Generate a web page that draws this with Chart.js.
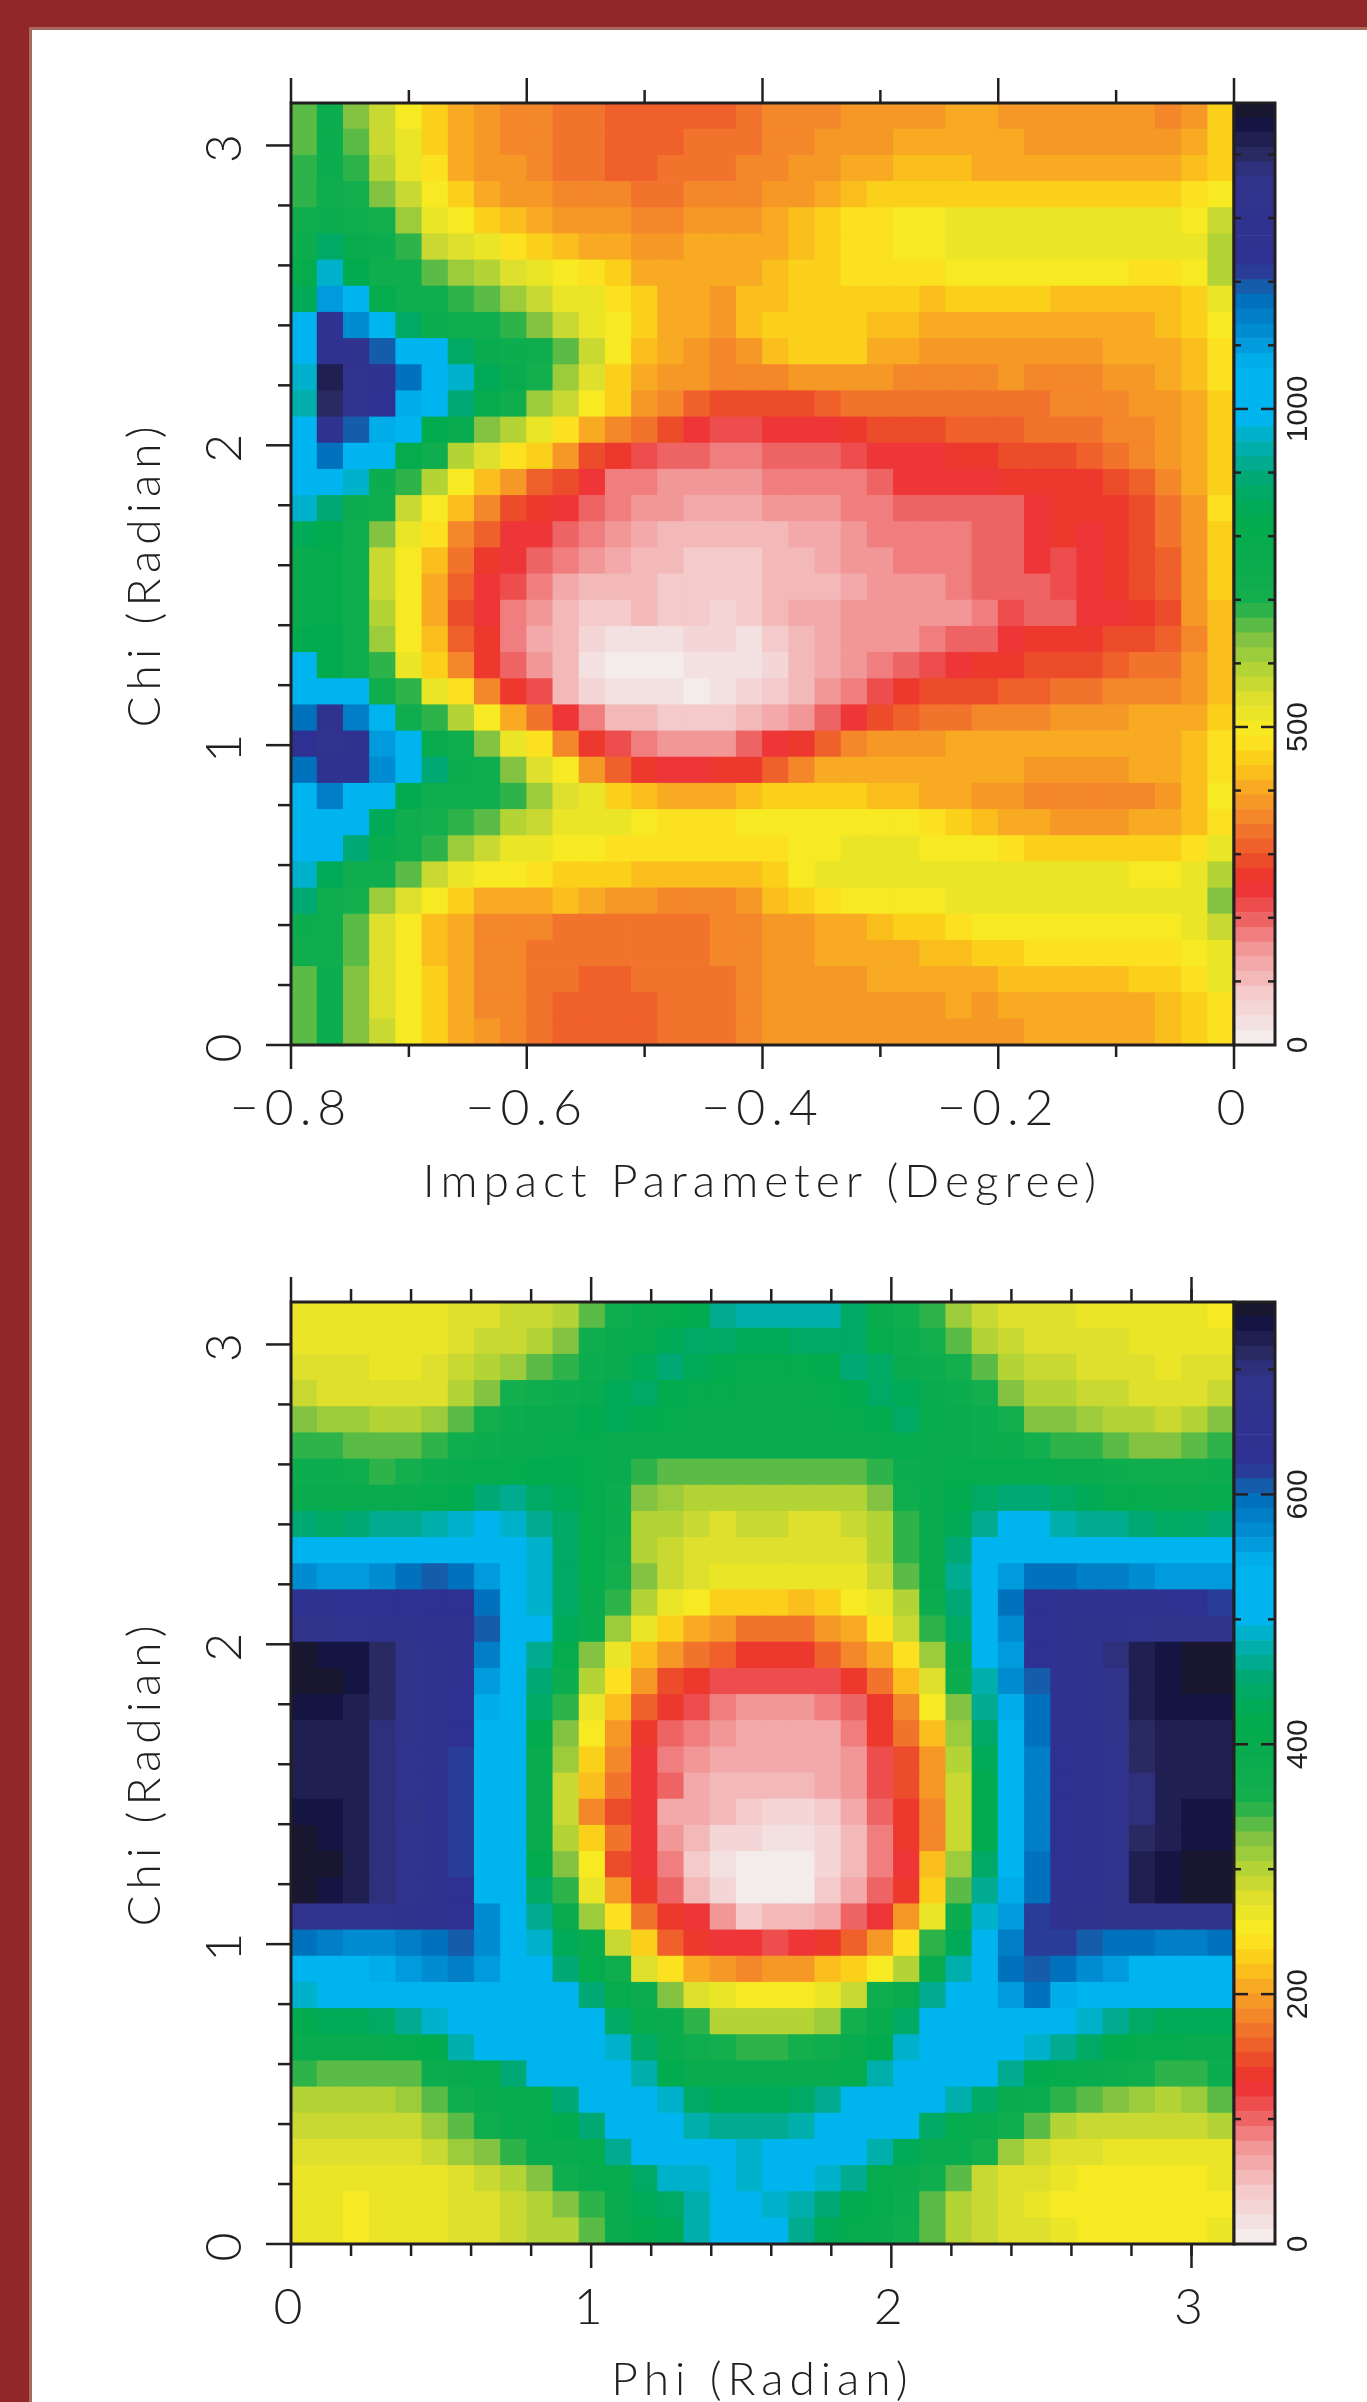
<!DOCTYPE html>
<html>
<head>
<meta charset="utf-8">
<title>Impact parameter and phi maps</title>
<style>
    html, body { margin: 0; padding: 0; background: #fff; overflow: hidden; }
    #page { position: relative; width: 1367px; height: 2402px; overflow: hidden; background: #92272a; }
    #sheet { position: absolute; left: 29px; top: 27px; width: 1338px; height: 2375px; background: #fff;
             border-left: 3px solid #a8695f; border-top: 3px solid #a8695f; }
    canvas { position: absolute; }
    #topMap { left: 60px; top: 60px; }
    #topBar { left: 1220px; top: 60px; }
    #lowMap { left: 60px; top: 1260px; }
    #lowBar { left: 1220px; top: 1260px; }
</style>
<script src="https://cdn.jsdelivr.net/npm/chart.js@4/dist/chart.umd.min.js"></script>
</head>
<body>
<div id="page">
    <div id="sheet"></div>
    <canvas id="topMap" width="1210" height="1155"></canvas>
    <canvas id="topBar" width="147" height="1155"></canvas>
    <canvas id="lowMap" width="1210" height="1170"></canvas>
    <canvas id="lowBar" width="147" height="1170"></canvas>
</div>
<script>
// values, rows go from top (chi = pi) to bottom (chi = 0)
const impactGrid = [
    [650,760,640,560,495,440,395,375,360,350,345,330,315,310,315,320,320,340,350,360,365,375,380,385,390,395,395,390,385,385,385,380,375,370,385,440],
    [660,760,660,570,510,450,400,380,365,350,340,325,315,310,320,330,330,340,360,370,375,385,390,400,405,405,400,395,390,385,385,385,385,380,410,460],
    [680,750,680,590,530,480,410,390,375,360,345,330,320,320,330,340,345,360,370,375,385,395,410,420,425,420,415,410,410,405,400,405,410,410,420,460],
    [690,740,710,630,560,500,440,410,390,375,365,355,350,345,345,350,355,370,375,385,400,420,440,455,460,455,455,450,450,445,440,445,450,460,475,500],
    [720,750,740,700,610,520,490,450,430,400,390,385,375,370,370,375,380,390,395,420,450,470,470,490,500,510,510,515,520,520,515,515,510,510,500,570],
    [760,860,770,750,690,570,540,510,470,445,420,415,405,390,390,395,395,400,405,430,450,465,475,490,500,510,515,520,520,525,525,520,510,510,510,590],
    [800,970,830,740,720,650,620,590,550,510,490,465,440,400,400,405,395,410,420,440,460,470,480,470,480,490,495,500,495,495,495,490,485,480,500,580],
    [850,1100,1020,800,720,730,680,650,610,560,520,510,480,440,410,400,390,420,430,445,455,460,450,445,430,440,445,445,440,430,420,425,430,430,460,530],
    [1000,1270,1120,990,860,760,740,720,690,640,570,520,490,440,410,395,385,425,440,450,455,450,430,420,415,415,415,410,410,400,400,400,410,420,440,490],
    [1020,1280,1300,1200,1040,1000,860,770,750,730,660,560,500,435,400,385,370,390,425,440,445,440,410,395,380,380,385,385,385,385,385,395,405,410,430,470],
    [960,1420,1340,1290,1160,1020,970,840,780,700,610,550,460,400,380,375,350,350,360,375,385,385,375,370,365,365,370,375,370,360,360,375,385,395,425,470],
    [940,1400,1320,1240,1080,1000,880,800,720,620,560,500,450,375,360,320,280,290,290,290,320,330,340,335,340,340,345,340,340,350,355,365,380,390,410,460],
    [1010,1290,1200,1080,1000,830,770,640,590,530,480,410,370,330,290,240,220,230,250,240,250,275,290,300,300,310,315,320,325,325,335,350,365,385,405,455],
    [1030,1160,1040,990,790,720,590,540,480,440,390,290,270,210,200,190,185,180,190,200,205,210,250,250,250,255,265,280,290,300,315,330,355,380,400,450],
    [1000,1040,960,760,690,580,500,430,390,320,280,240,185,165,160,155,155,160,165,175,175,175,200,245,250,250,250,255,255,265,270,285,320,370,395,440],
    [960,900,760,730,570,490,430,350,300,265,240,195,170,150,140,130,130,130,140,155,160,165,170,190,195,200,205,205,250,260,255,265,300,345,390,470],
    [850,820,740,640,520,470,370,310,250,235,190,165,150,130,110,105,100,100,110,125,135,145,175,180,180,185,190,195,245,255,245,260,280,335,380,450],
    [780,800,730,570,500,430,340,270,245,190,165,145,125,110,100,90,85,90,100,115,125,140,160,175,175,180,190,200,250,230,250,260,280,320,380,450],
    [770,790,720,560,495,400,310,250,210,165,130,110,100,100,90,75,70,75,95,105,115,125,150,155,160,175,190,200,205,220,240,255,285,320,380,440],
    [780,790,720,590,500,400,300,250,185,145,110,80,90,95,85,75,65,75,100,120,135,145,150,155,150,160,180,225,200,205,250,250,255,300,375,430],
    [810,810,720,620,490,430,320,265,170,135,100,50,40,35,40,50,50,45,70,110,130,150,155,160,175,190,205,250,265,270,270,280,290,320,370,430],
    [1000,820,740,690,510,440,370,260,200,155,100,25,5,5,10,30,30,40,65,95,130,150,165,195,210,245,255,270,290,300,300,310,325,345,380,430],
    [1060,1050,1000,740,680,520,465,370,260,210,115,65,45,30,30,20,45,60,85,110,140,180,230,270,280,290,295,310,320,340,345,350,360,370,390,430],
    [1180,1310,1150,1000,730,690,590,490,400,330,250,170,110,95,85,85,90,100,130,160,190,250,290,320,335,340,350,355,370,380,385,390,395,400,410,450],
    [1240,1320,1290,1090,1000,780,720,640,520,470,360,270,210,170,150,150,160,190,240,270,320,370,380,385,390,395,395,400,410,415,415,410,410,415,420,470],
    [1170,1290,1280,1130,1000,890,760,720,640,550,490,390,310,260,250,250,255,270,320,370,395,400,400,410,410,400,395,395,390,385,385,390,395,400,420,480],
    [1020,1150,1050,990,830,740,730,720,690,620,550,510,460,420,395,400,410,420,440,450,445,440,430,425,410,400,390,375,370,365,360,365,370,385,420,490],
    [990,1030,1010,850,730,710,690,650,600,560,520,510,510,495,480,470,470,490,490,495,500,500,505,490,470,450,430,410,400,390,385,385,395,400,430,480],
    [1000,1010,880,780,720,680,620,570,530,510,500,490,480,480,470,470,465,470,480,500,505,510,515,515,505,495,490,470,450,440,440,440,450,460,480,510],
    [960,850,730,720,650,560,510,500,490,480,460,450,440,430,430,425,425,435,450,495,510,515,520,520,525,530,530,525,525,520,510,510,505,495,520,590],
    [880,730,700,620,550,490,440,415,410,410,420,400,385,375,370,370,370,385,420,445,480,495,495,490,500,510,510,510,515,515,515,510,510,510,530,630],
    [760,740,670,540,490,430,395,370,360,350,345,340,335,335,340,345,350,365,375,385,395,415,425,440,460,480,500,500,495,495,490,490,490,490,510,570],
    [720,740,650,550,490,430,395,365,350,345,340,335,330,335,340,345,350,370,385,390,395,400,410,415,425,435,450,460,465,470,470,470,470,480,495,530],
    [650,750,640,550,500,440,395,365,350,340,335,320,320,325,335,345,345,365,380,385,385,390,395,395,400,400,410,420,425,430,430,435,440,450,480,510],
    [650,750,640,550,500,450,395,370,350,335,320,305,305,315,325,335,340,360,375,380,380,385,385,390,390,395,385,395,400,405,410,410,415,425,460,485],
    [650,750,640,560,490,440,400,375,355,335,320,305,310,320,330,340,345,365,380,385,385,385,385,390,385,385,385,390,395,400,400,405,410,420,450,470]
];

const phiGrid = [
    [266,266,266,266,266,270,280,280,284,290,302,340,375,395,405,415,470,478,480,478,475,440,400,375,345,310,287,280,276,272,270,270,268,266,262,258],
    [270,268,266,266,266,270,282,287,292,302,325,370,390,410,430,445,440,430,430,440,445,440,410,385,360,330,300,287,282,277,274,272,268,266,264,264],
    [276,274,272,270,270,274,287,295,310,330,350,385,400,430,450,430,420,410,410,410,420,450,440,395,380,365,330,300,292,287,282,277,272,270,272,280],
    [287,282,280,277,277,282,305,320,355,375,385,395,430,445,420,410,405,400,400,400,405,420,445,430,395,385,355,320,305,300,290,285,280,272,272,290],
    [320,310,308,305,305,310,330,365,380,390,400,420,425,415,405,400,400,400,400,400,400,405,420,440,410,390,380,355,325,320,315,305,295,290,295,320],
    [350,345,335,330,330,345,370,385,395,400,405,405,400,395,395,395,395,395,395,395,395,395,400,405,400,390,380,380,365,350,345,335,325,325,330,345],
    [385,385,370,350,360,380,395,405,410,420,415,405,390,345,330,330,330,335,330,330,330,335,350,380,395,405,410,410,405,395,390,380,370,370,370,380],
    [400,400,400,400,400,405,420,450,460,440,425,405,385,320,310,300,295,295,300,300,295,300,320,370,400,420,440,450,450,440,425,410,405,400,400,405],
    [450,445,450,465,470,480,490,495,490,465,440,410,380,305,300,285,280,285,285,280,280,285,305,350,395,425,470,500,500,480,470,460,450,440,440,450],
    [520,520,530,535,535,535,530,535,530,490,440,410,375,300,290,280,275,272,272,272,275,280,300,345,395,450,520,530,535,530,525,520,520,520,525,525],
    [570,560,560,570,590,610,600,560,520,490,440,405,360,325,290,280,270,265,262,262,262,270,285,335,390,470,525,560,600,595,585,580,570,560,555,560],
    [640,640,630,625,630,630,630,600,520,490,440,400,345,300,262,248,235,225,225,220,235,250,270,300,380,450,530,590,630,640,640,640,640,640,630,620],
    [690,690,680,670,660,650,650,610,520,495,430,395,310,265,225,205,190,175,175,170,190,210,240,290,350,445,520,575,630,650,660,665,675,685,690,685],
    [750,740,735,710,690,660,645,580,510,470,410,320,265,220,195,170,160,135,135,130,155,180,210,245,310,400,510,560,625,645,660,700,720,740,745,745],
    [745,745,735,715,690,660,640,560,510,450,385,300,240,190,150,130,110,110,115,115,115,135,165,215,280,380,480,570,610,645,660,690,720,740,745,745],
    [735,735,725,715,690,660,635,550,505,440,350,270,220,160,130,110,85,80,80,80,85,100,135,180,250,325,460,550,600,645,660,690,720,735,735,735],
    [730,730,720,705,685,660,625,530,500,420,320,255,195,130,105,85,75,70,70,70,70,85,130,165,220,310,440,540,590,640,655,685,715,730,730,730],
    [728,728,720,705,680,660,620,520,500,400,310,230,180,120,90,75,65,60,60,60,65,80,115,150,200,300,430,530,585,635,655,680,710,725,725,725],
    [728,725,720,705,680,655,615,520,495,400,290,220,175,120,95,70,55,55,55,55,60,75,110,145,190,290,420,525,585,635,655,680,705,720,720,720],
    [740,735,720,705,685,655,615,520,495,395,290,180,150,120,70,60,50,40,35,35,45,65,105,140,180,290,420,520,585,630,650,680,700,725,740,740],
    [748,740,725,705,680,655,615,520,495,400,300,230,165,125,75,50,30,25,15,20,35,50,85,130,180,290,420,525,585,630,650,680,710,730,740,738],
    [750,745,730,705,680,655,620,525,500,420,320,250,150,120,85,40,20,5,3,5,30,55,85,125,215,310,440,530,590,630,650,680,720,740,745,745],
    [745,740,725,705,680,655,625,540,505,440,350,265,190,130,100,50,25,10,10,10,40,65,95,130,230,340,470,545,600,640,655,690,725,742,745,750],
    [680,680,680,680,670,650,625,570,515,460,400,310,240,165,140,120,80,45,50,55,70,100,125,190,260,380,490,565,620,650,670,685,690,690,690,690],
    [590,580,570,570,580,600,610,570,530,490,425,395,290,225,155,130,125,120,115,120,140,155,190,240,345,425,520,580,620,620,610,600,590,585,585,590],
    [530,530,535,545,555,570,580,555,525,510,450,405,370,280,240,205,190,185,190,200,215,235,255,300,395,480,530,590,610,590,570,555,540,530,530,530],
    [490,500,500,510,520,530,540,540,530,525,510,450,405,385,320,275,260,250,250,250,265,290,370,400,470,525,540,560,590,550,535,510,500,500,500,495],
    [420,425,430,440,460,490,530,540,540,535,530,500,440,410,395,350,305,295,295,300,310,360,400,440,510,535,540,540,525,510,490,470,440,430,430,425],
    [395,395,395,400,405,420,480,510,530,535,540,530,490,440,400,370,360,350,350,355,370,395,420,490,530,540,540,525,490,470,440,420,410,405,395,395],
    [350,330,335,330,340,380,395,410,450,510,530,540,530,480,420,400,395,395,395,395,400,410,480,530,540,530,510,470,420,410,400,385,370,350,350,385],
    [305,305,305,305,310,335,375,400,405,410,450,495,530,530,490,440,430,425,430,440,460,495,530,540,520,480,440,400,385,350,330,320,310,305,315,340],
    [290,290,285,285,285,310,340,375,395,405,420,450,510,520,510,480,470,465,470,480,500,520,520,500,440,410,395,370,330,300,290,290,285,285,285,300],
    [272,272,272,274,274,290,315,325,350,390,400,410,470,510,510,505,495,490,495,500,510,510,480,430,400,390,360,310,287,282,272,268,262,262,262,268],
    [264,264,262,264,264,270,282,287,300,320,370,395,410,440,490,490,495,490,495,495,490,460,410,400,370,335,290,280,275,265,257,254,252,252,254,260],
    [262,260,258,260,262,266,272,277,284,295,320,350,400,430,440,480,495,495,490,480,450,420,405,385,340,300,285,275,265,257,252,252,250,250,252,256],
    [264,262,258,260,262,268,274,282,288,295,305,340,395,415,430,480,495,500,495,470,430,410,400,370,330,305,292,282,272,260,252,250,250,252,254,260]
];

// axis ticks
const PI = 3.14159;
const impactMajor = [-0.8, -0.6, -0.4, -0.2, 0];
const impactMinor = [-0.7, -0.5, -0.3, -0.1];
const phiMajor = [0, 1, 2, 3];
const phiMinor = [0.2, 0.4, 0.6, 0.8, 1.2, 1.4, 1.6, 1.8, 2.2, 2.4, 2.6, 2.8, 3.0];
const chiMajor = [0, 1, 2, 3];
const chiMinor = [0.2, 0.4, 0.6, 0.8, 1.2, 1.4, 1.6, 1.8, 2.2, 2.4, 2.6, 2.8];
const impactBarMax = 1481;
const impactBarLabels = [0, 500, 1000];
const impactBarMinor = [100, 200, 300, 400, 600, 700, 800, 900, 1100, 1200, 1300, 1400];
const phiBarMax = 754;
const phiBarLabels = [0, 200, 400, 600];
const phiBarMinor = [100, 300, 500, 700];

// colour table, t is value / max of the colour bar
const colourStops = [
    [0, '#f3f1f0'], [0.05, '#f4cfcf'], [0.1, '#f29a9a'], [0.136, '#ee5f60'], [0.17, '#ee2d2f'],
    [0.196, '#ec4d2a'], [0.235, '#f47f2d'], [0.27, '#f7a623'], [0.3, '#fbcb1a'], [0.33, '#fbec21'],
    [0.367, '#dfe02d'], [0.403, '#aed136'], [0.432, '#7fc242'], [0.47, '#14ae4e'], [0.56, '#00ab4e'],
    [0.6, '#00a970'], [0.635, '#00aeb0'], [0.665, '#00b4ef'], [0.72, '#00b4ef'], [0.75, '#0092d5'],
    [0.79, '#0071bc'], [0.81, '#1c55a4'], [0.825, '#2e3192'], [0.92, '#32348c'], [0.945, '#2a2a62'],
    [0.97, '#181a48'], [0.985, '#0f0e3c'], [1, '#231f20']
];
const LEVELS = 64;
const INK = '#231f20';
const THIN_FONT = 'Lato, "Open Sans", sans-serif';
const MAP_WIDTH = 943;

function hexToRgb(hex) {
    return [1, 3, 5].map(i => parseInt(hex.slice(i, i + 2), 16));
}

// the table is banded like the colour bar in the picture
function colourFor(t) {
    const level = Math.min(LEVELS - 1, Math.max(0, Math.floor(t * LEVELS)));
    const mid = (level + 0.5) / LEVELS;
    let i = 1;
    while (i < colourStops.length - 1 && colourStops[i][0] < mid) i++;
    const [t0, c0] = colourStops[i - 1];
    const [t1, c1] = colourStops[i];
    const f = (mid - t0) / (t1 - t0);
    const a = hexToRgb(c0);
    const b = hexToRgb(c1);
    return `rgb(${a.map((v, k) => Math.round(v + (b[k] - v) * f)).join(',')})`;
}

// labels hang over the plot edges, keep chart.js from shrinking the plot for them
function noLabelPadding(s) {
    s.paddingTop = 0;
    s.paddingBottom = 0;
    s.paddingLeft = 0;
    s.paddingRight = 0;
}

// ticks and box are drawn after the cells so they sit on top
const ticksPlugin = {
    id: 'ticksPlugin',
    beforeDraw(chart) {
        chart.ctx.letterSpacing = chart.options.plugins.ticksPlugin.spacing || '0px';
    },
    afterDraw(chart) {
        const opts = chart.options.plugins.ticksPlugin;
        const { ctx, chartArea: area, scales } = chart;
        ctx.save();
        ctx.strokeStyle = INK;
        ctx.lineWidth = 2.5;
        const line = (x0, y0, x1, y1) => {
            ctx.beginPath();
            ctx.moveTo(x0, y0);
            ctx.lineTo(x1, y1);
            ctx.stroke();
        };
        if (opts.bar) {
            opts.barMajor.forEach(v => {
                const y = scales.y.getPixelForValue(v);
                line(area.left, y, area.left + 14, y);
                line(area.right, y, area.right - 14, y);
            });
            opts.barMinor.forEach(v => {
                const y = scales.y.getPixelForValue(v);
                line(area.left, y, area.left + 7, y);
                line(area.right, y, area.right - 7, y);
            });
            ctx.lineWidth = 3;
            ctx.strokeRect(area.left, area.top, area.right - area.left, area.bottom - area.top);
        } else {
            opts.xMajor.forEach(v => {
                const x = scales.x.getPixelForValue(v);
                line(x, area.bottom, x, area.bottom + 24);
                line(x, area.top, x, area.top - 25);
            });
            opts.xMinor.forEach(v => {
                const x = scales.x.getPixelForValue(v);
                line(x, area.bottom, x, area.bottom + 12);
                line(x, area.top, x, area.top - 13);
            });
            chiMajor.forEach(v => {
                const y = scales.y.getPixelForValue(v);
                line(area.left, y, area.left - 25, y);
            });
            chiMinor.forEach(v => {
                const y = scales.y.getPixelForValue(v);
                line(area.left, y, area.left - 13, y);
            });
            ctx.lineWidth = 3;
            ctx.strokeRect(area.left, area.top, area.right - area.left, area.bottom - area.top);
        }
        ctx.restore();
    }
};

function drawMap(id, grid, xMin, xMax, xMajor, xMinor, xTitle, axisHeight, titlePad, paddingTop) {
    const rows = grid.length;
    const cols = grid[0].length;
    const cells = [];
    grid.forEach((row, r) => {
        row.forEach((v, c) => {
            cells.push({
                x: xMin + (c + 0.5) * (xMax - xMin) / cols,
                y: PI - (r + 0.5) * PI / rows,
                v: v
            });
        });
    });
    const barMax = grid === impactGrid ? impactBarMax : phiBarMax;
    new Chart(document.getElementById(id), {
        type: 'scatter',
        data: {
            datasets: [{
                data: cells,
                showLine: false,
                clip: 0,
                pointStyle: 'rect',
                pointBorderWidth: 0,
                pointRadius: (MAP_WIDTH / cols + 0.8) * Math.SQRT1_2,
                pointBackgroundColor: ctx => colourFor(ctx.raw.v / barMax)
            }]
        },
        options: {
            responsive: false,
            animation: false,
            events: [],
            layout: { padding: { top: paddingTop, right: 36, left: 0, bottom: 0 } },
            plugins: {
                legend: { display: false },
                tooltip: { enabled: false },
                ticksPlugin: { xMajor: xMajor, xMinor: xMinor, spacing: '6px' }
            },
            scales: {
                x: {
                    type: 'linear',
                    min: xMin,
                    max: xMax,
                    grid: { display: false, drawTicks: false },
                    border: { display: false },
                    afterFit: s => { s.height = axisHeight; noLabelPadding(s); },
                    afterBuildTicks: s => { s.ticks = xMajor.map(v => ({ value: v })); },
                    ticks: {
                        autoSkip: false,
                        maxRotation: 0,
                        padding: 34,
                        color: INK,
                        font: { family: THIN_FONT, size: 50, weight: '300' },
                        callback: v => String(v).replace('-', '\u2212')
                    },
                    title: {
                        display: true,
                        text: xTitle,
                        color: INK,
                        font: { family: THIN_FONT, size: 46, weight: '300' },
                        padding: { top: 0, bottom: titlePad }
                    }
                },
                y: {
                    type: 'linear',
                    min: 0,
                    max: PI,
                    grid: { display: false, drawTicks: false },
                    border: { display: false },
                    afterFit: s => { s.width = 231; noLabelPadding(s); },
                    afterBuildTicks: s => { s.ticks = chiMajor.map(v => ({ value: v })); },
                    ticks: {
                        autoSkip: false,
                        minRotation: 90,
                        maxRotation: 90,
                        crossAlign: 'center',
                        padding: 52,
                        color: INK,
                        font: { family: THIN_FONT, size: 50, weight: '300' }
                    },
                    title: {
                        display: true,
                        text: 'Chi (Radian)',
                        color: INK,
                        font: { family: THIN_FONT, size: 46, weight: '300' },
                        padding: { top: 58, bottom: 0 }
                    }
                }
            }
        },
        plugins: [ticksPlugin]
    });
}

function drawBar(id, barMax, labels, minor, major, axisHeight, paddingTop, labelPad) {
    const step = barMax / LEVELS;
    const datasets = [];
    for (let i = 0; i < LEVELS; i++) {
        datasets.push({
            data: [step],
            backgroundColor: colourFor((i + 0.5) / LEVELS),
            borderWidth: 0,
            barPercentage: 1,
            categoryPercentage: 1
        });
    }
    new Chart(document.getElementById(id), {
        type: 'bar',
        data: { labels: ['level'], datasets: datasets },
        options: {
            responsive: false,
            animation: false,
            events: [],
            layout: { padding: { top: paddingTop, bottom: axisHeight, left: 14, right: 0 } },
            plugins: {
                legend: { display: false },
                tooltip: { enabled: false },
                ticksPlugin: { bar: true, barMajor: major, barMinor: minor }
            },
            scales: {
                x: { stacked: true, display: false },
                y: {
                    stacked: true,
                    position: 'right',
                    min: 0,
                    max: barMax,
                    grid: { display: false, drawTicks: false },
                    border: { display: false },
                    afterFit: s => { s.width = 147 - 14 - 41; noLabelPadding(s); },
                    afterBuildTicks: s => { s.ticks = labels.map(v => ({ value: v })); },
                    ticks: {
                        autoSkip: false,
                        minRotation: 90,
                        maxRotation: 90,
                        crossAlign: 'center',
                        padding: labelPad,
                        color: INK,
                        font: { family: '"Liberation Sans", Arial, sans-serif', size: 30 },
                        callback: v => String(v)
                    }
                }
            }
        },
        plugins: [ticksPlugin]
    });
}

drawMap('topMap', impactGrid, -0.8, 0, impactMajor, impactMinor, 'Impact Parameter (Degree)', 170, 5, 43);
drawBar('topBar', impactBarMax, impactBarLabels, impactBarMinor, [500, 1000], 1155 - 985, 43, -10);
drawMap('lowMap', phiGrid, 0, PI, phiMajor, phiMinor, 'Phi (Radian)', 186, 22, 42);
drawBar('lowBar', phiBarMax, phiBarLabels, phiBarMinor, [200, 400, 600], 1170 - 984, 42, -1);
</script>
</body>
</html>
